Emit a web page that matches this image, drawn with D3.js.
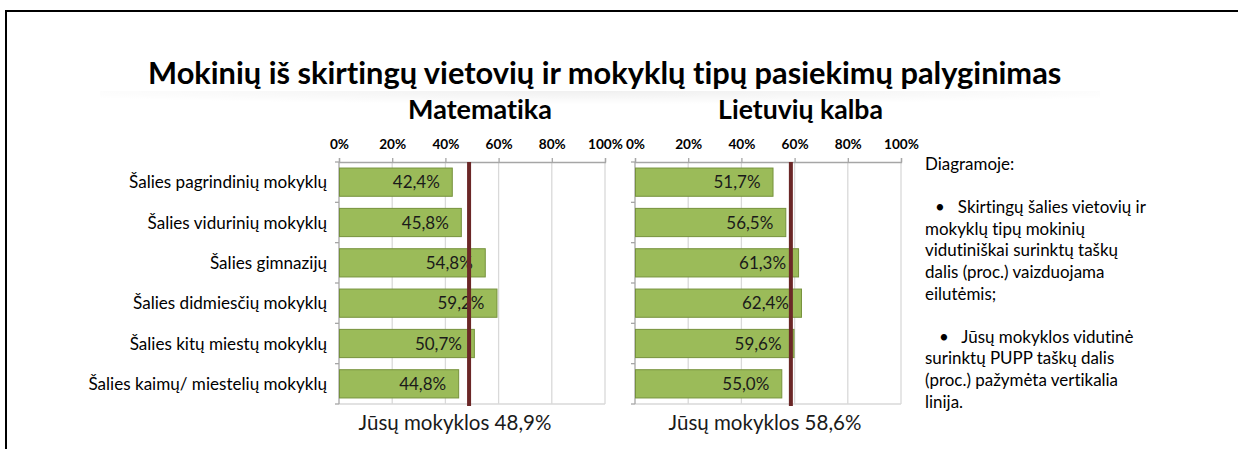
<!DOCTYPE html>
<html><head><meta charset="utf-8">
<script src="https://cdn.jsdelivr.net/npm/d3@7"></script>
<style>body{margin:0;background:#fff}svg{display:block}text{font-family:Lato,"Open Sans",sans-serif;font-variant-ligatures:none;font-feature-settings:"liga" 0,"clig" 0}</style>
</head><body>
<svg id="c" width="1238" height="449"></svg>
<script>
const categories = ["Šalies pagrindinių mokyklų","Šalies vidurinių mokyklų","Šalies gimnazijų","Šalies didmiesčių mokyklų","Šalies kitų miestų mokyklų","Šalies kaimų/ miestelių mokyklų"];
const mathValues = [42.4, 45.8, 54.8, 59.2, 50.7, 44.8];
const lithValues = [51.7, 56.5, 61.3, 62.4, 59.6, 55.0];
const schoolValues = [48.9, 58.6];
const subjects = ["Matematika","Lietuvių kalba"];
const tickValues = [0,20,40,60,80,100];
const title = "Mokinių iš skirtingų vietovių ir mokyklų tipų pasiekimų palyginimas";
const legendLines = ["Diagramoje:","","• Skirtingų šalies vietovių ir","mokyklų tipų mokinių","vidutiniškai surinktų taškų","dalis (proc.) vaizduojama","eilutėmis;","","• Jūsų mokyklos vidutinė","surinktų PUPP taškų dalis","(proc.) pažymėta vertikalia","linija."];

(function(){
const svg = d3.select("#c");
const fmt = v => d3.format(".1f")(v).replace(".", ",") + "%";

function fit(sel, target, base){
  sel.attr("font-size", base);
  const w = sel.node().getComputedTextLength();
  sel.attr("font-size", base * target / w);
  return base * target / w;
}

// frame
svg.append("line").attr("x1",6).attr("x2",6).attr("y1",10).attr("y2",449).attr("stroke","#000").attr("stroke-width",2);
svg.append("line").attr("x1",5).attr("x2",1238).attr("y1",11).attr("y2",11).attr("stroke","#000").attr("stroke-width",2);

// title shadow
const defs = svg.append("defs");
const g1 = defs.append("radialGradient").attr("id","sh").attr("cx","50%").attr("cy","0%").attr("r","60%");
g1.append("stop").attr("offset","0%").attr("stop-color","#000").attr("stop-opacity",0.06);
g1.append("stop").attr("offset","100%").attr("stop-color","#000").attr("stop-opacity",0);
svg.append("rect").attr("x",100).attr("y",91).attr("width",1000).attr("height",22).attr("fill","url(#sh)");

const t = svg.append("text").attr("x",148).attr("y",84).attr("font-weight",700).attr("fill","#000").text(title);
fit(t, 914, 26);

const panels = [
  {values: mathValues, x0: 339, x1: 605, school: schoolValues[0], sub: subjects[0], subC: 480, subW: 144, foot: 455},
  {values: lithValues, x0: 635, x1: 901, school: schoolValues[1], sub: subjects[1], subC: 800.5, subW: 165, foot: 765}
];
const pTop = 162, pBottom = 404;
const y = d3.scaleBand().domain(categories).range([pTop, pBottom]).paddingInner(0.3).paddingOuter(0.15);
const yEdges = d3.scaleLinear().domain([0, categories.length]).range([pTop, pBottom]);

let valueFS = null, tickFS = null, footFS = null;
panels.forEach((p, pi) => {
  const x = d3.scaleLinear().domain([0,100]).range([p.x0, p.x1]);
  const g = svg.append("g");
  const st = g.append("text").attr("x",p.subC).attr("y",119).attr("text-anchor","middle").attr("font-weight",700).attr("fill","#000").text(p.sub);
  fit(st, p.subW, 22);
  g.selectAll(".grid").data(tickValues.slice(1)).join("line")
    .attr("x1",d=>x(d)).attr("x2",d=>x(d)).attr("y1",pTop).attr("y2",pBottom)
    .attr("stroke","#d9d9d9").attr("stroke-width",1.3);
  g.append("line").attr("x1",p.x0).attr("x2",p.x1).attr("y1",pBottom).attr("y2",pBottom).attr("stroke","#d9d9d9").attr("stroke-width",1.3);
  const ax = g.append("g").attr("transform",`translate(0,${pTop})`).call(d3.axisTop(x).tickValues(tickValues).tickSize(4).tickPadding(10).tickFormat(d=>d+"%"));
  ax.select(".domain").attr("stroke","#a6a6a6").attr("stroke-width",1.3);
  ax.selectAll(".tick line").attr("stroke","#a6a6a6").attr("stroke-width",1.3);
  ax.selectAll(".tick text").attr("font-family","Lato").attr("font-weight",700).attr("fill","#000").attr("dy","0.1em");
  if (tickFS === null) {
    const s = ax.selectAll(".tick text").filter(d=>d===20);
    s.attr("font-size",12);
    tickFS = 12 * 27 / s.node().getComputedTextLength();
  }
  ax.selectAll(".tick text").attr("font-size",tickFS);
  g.append("line").attr("x1",p.x0).attr("x2",p.x0).attr("y1",pTop).attr("y2",pBottom).attr("stroke","#a6a6a6").attr("stroke-width",1.3);
  g.selectAll(".lt").data(d3.range(categories.length+1)).join("line")
    .attr("x1",p.x0-4).attr("x2",p.x0).attr("y1",d=>yEdges(d)).attr("y2",d=>yEdges(d))
    .attr("stroke","#a6a6a6").attr("stroke-width",1.3);
  g.selectAll(".bar").data(p.values).join("rect")
    .attr("x",x(0)+0.5).attr("y",(d,i)=>y(categories[i]))
    .attr("width",d=>x(d)-x(0)).attr("height",y.bandwidth())
    .attr("fill","#9bbb59").attr("stroke","#76923c").attr("stroke-width",1);
  const vl = g.selectAll(".vl").data(p.values).join("text")
    .attr("x",d=>x(d)-12).attr("y",(d,i)=>y(categories[i])+y.bandwidth()/2)
    .attr("dy","0.36em").attr("text-anchor","end").attr("fill","#1a1a1a").text(d=>fmt(d));
  if (valueFS === null) {
    const n = vl.filter((d,i)=>i===0);
    n.attr("font-size",16);
    valueFS = 16 * 47 / n.node().getComputedTextLength();
  }
  vl.attr("font-size",valueFS);
  g.append("line").attr("x1",x(p.school)).attr("x2",x(p.school)).attr("y1",pTop).attr("y2",pBottom+2)
    .attr("stroke","#6b2727").attr("stroke-width",4);
  const ft = g.append("text").attr("x",p.foot).attr("y",430).attr("text-anchor","middle").attr("fill","#1a1a1a").text("Jūsų mokyklos " + fmt(p.school));
  if (footFS === null) footFS = fit(ft, 193, 18); else ft.attr("font-size", footFS);
});

const cl = svg.append("g").selectAll("text").data(categories).join("text")
  .attr("x",327).attr("y",d=>y(d)+y.bandwidth()/2).attr("dy","0.36em").attr("text-anchor","end").attr("fill","#000").text(d=>d);
cl.attr("font-size",15);
const clw = cl.filter((d,i)=>i===0).node().getComputedTextLength();
cl.attr("font-size",15*198/clw);

const lg = svg.append("g").selectAll("text").data(legendLines).join("text")
  .attr("x",(d,i)=>d.startsWith("•") ? (i<5 ? 935 : 939) : 925)
  .attr("y",(d,i)=>170 + i*21.6)
  .attr("fill","#000").text(d=>d.replace("•","•\u00a0\u00a0"));
lg.attr("font-size",14);
const lw = lg.filter((d,i)=>i===4).node().getComputedTextLength();
lg.attr("font-size",14*193/lw);
})();
</script>
</body></html>
